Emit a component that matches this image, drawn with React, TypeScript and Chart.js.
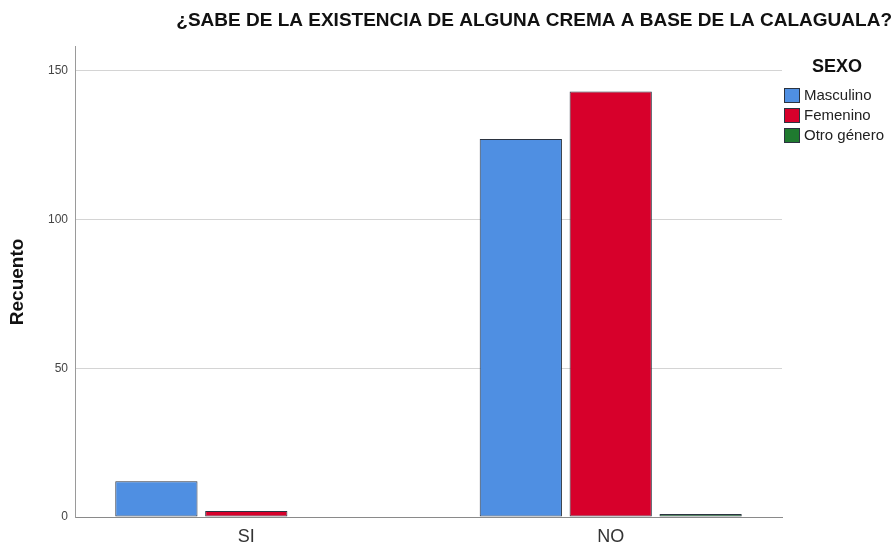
import React, { useEffect, useRef } from "react";
import { Chart, registerables } from "chart.js";

Chart.register(...registerables);

const categories = ["SI", "NO"];
const seriesLabels = ["Masculino", "Femenino", "Otro género"];
const masculino = [12, 127];
const femenino = [2, 143];
const otroGenero = [0, 1];
const yTicks = [0, 50, 100, 150];

const chartTitle = "¿SABE DE LA EXISTENCIA DE ALGUNA CREMA A BASE DE LA CALAGUALA?";
const yTitle = "Recuento";
const legendTitle = "SEXO";

const COLORS = ["#4F8FE2", "#D7002B", "#1F7A2F"];
const FONT = "'Liberation Sans', Arial, Helvetica, sans-serif";

const legendPlugin = {
  id: "sideLegend",
  afterDraw(chart: any) {
    const ctx = chart.ctx;
    const area = chart.chartArea;
    const x0 = area.right + 1;
    ctx.save();
    ctx.fillStyle = "#111";
    ctx.font = `bold 18px ${FONT}`;
    ctx.textAlign = "center";
    ctx.textBaseline = "middle";
    ctx.fillText(legendTitle, x0 + 54, 67);
    ctx.font = `15px ${FONT}`;
    ctx.textAlign = "left";
    chart.data.datasets.forEach((ds: any, i: number) => {
      const y = 88 + i * 20;
      ctx.fillStyle = ds.backgroundColor;
      ctx.fillRect(x0 + 1, y, 16, 15);
      ctx.strokeStyle = "#2b3340";
      ctx.lineWidth = 1;
      ctx.strokeRect(x0 + 1.5, y + 0.5, 15, 14);
      ctx.fillStyle = "#222";
      ctx.fillText(ds.label, x0 + 21, y + 8);
    });
    ctx.restore();
  },
};

export default function App() {
  const ref = useRef<HTMLCanvasElement | null>(null);
  useEffect(() => {
    document.body.style.margin = "0";
    const canvas = ref.current;
    if (!canvas) return;
    const data = [masculino, femenino, otroGenero];
    const chart = new Chart(canvas, {
      type: "bar",
      data: {
        datasets: seriesLabels.map((label, i) => ({
          label,
          data: categories.map((_, j) => ({ x: j, y: data[i][j] })),
          backgroundColor: COLORS[i],
          borderColor: "#2b3340",
          borderWidth: 1,
          borderSkipped: false,
          categoryPercentage: 0.74,
          barPercentage: 0.915,
        })),
      },
      options: {
        responsive: false,
        animation: false,
        layout: { padding: { left: 0, right: 0, top: 0, bottom: 0 } },
        plugins: {
          legend: { display: false },
          tooltip: { enabled: false },
          title: {
            display: true,
            text: chartTitle,
            align: "end",
            color: "#111",
            font: { family: FONT, size: 19, weight: "bold" },
            padding: { top: 9, bottom: 15 },
          },
        },
        scales: {
          x: {
            type: "linear",
            min: -0.47,
            max: 1.47,
            offset: false,
            grid: { display: false, drawTicks: false },
            border: { display: true, color: "#8a8a8a", width: 1 },
            afterBuildTicks: (s: any) => {
              s.ticks = categories.map((_, j) => ({ value: j }));
            },
            ticks: {
              color: "#333",
              font: { family: FONT, size: 18 },
              padding: 9,
              autoSkip: false,
              maxRotation: 0,
              callback: (v: any) => categories[Math.round(Number(v))] ?? "",
            },
            afterFit: (s: any) => {
              s.height = 30;
            },
          },
          y: {
            min: 0,
            max: 158,
            grid: { color: "#d4d4d4", drawTicks: false, lineWidth: 1 },
            border: { display: true, color: "#9a9a9a", width: 1 },
            ticks: {
              color: "#444",
              font: { family: FONT, size: 12 },
              padding: 7,
            },
            afterBuildTicks: (s: any) => {
              s.ticks = yTicks.map((v) => ({ value: v }));
            },
            title: {
              display: true,
              text: yTitle,
              color: "#111",
              font: { family: FONT, size: 19, weight: "bold" },
              padding: { top: 6, bottom: 0 },
            },
            afterFit: (s: any) => {
              s.width = 75;
            },
          },
          yRight: {
            position: "right",
            display: true,
            grid: { display: false, drawTicks: false },
            border: { display: false },
            ticks: { display: false },
            afterFit: (s: any) => {
              s.width = 110;
            },
          },
        },
      },
      plugins: [legendPlugin],
    } as any);
    return () => chart.destroy();
  }, []);
  return (
    <div style={{ width: 892, height: 547, background: "#fff" }}>
      <canvas ref={ref} width={892} height={547} />
    </div>
  );
}
